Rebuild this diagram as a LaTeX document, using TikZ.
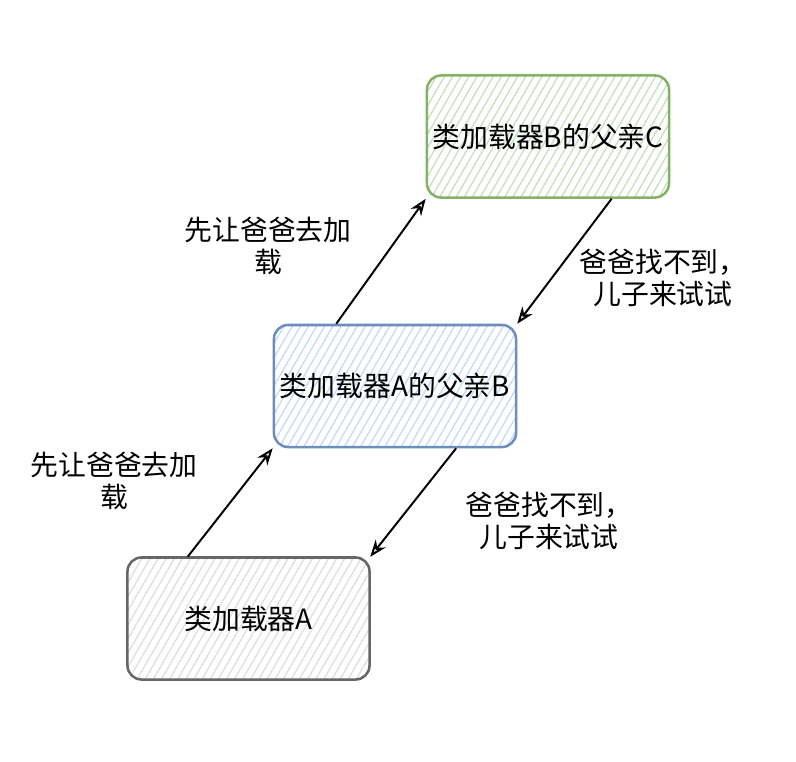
\documentclass[tikz,border=0pt]{standalone}
\usepackage{fontspec}
\setmainfont{Noto Sans CJK SC}
\usetikzlibrary{arrows.meta,calc,patterns.meta}
\definecolor{greenline}{HTML}{82B366}
\definecolor{greenhatch}{HTML}{C8E1C1}
\definecolor{blueline}{HTML}{6C8EBF}
\definecolor{bluehatch}{HTML}{C9DBF6}
\definecolor{grayline}{HTML}{666666}
\definecolor{grayhatch}{HTML}{E0E0E0}

\begin{document}
\begin{tikzpicture}[x=0.025cm,y=-0.025cm,>={Stealth[open,length=12pt,width=9pt]},
 box/.style={draw,line width=1.8pt,rounded corners=0.35cm,minimum width=6.05cm,minimum height=3.05cm,
  font=\fontsize{19.8}{24}\selectfont},
 hatch/.style={pattern={Lines[angle=60,distance=5pt,line width=1pt]},pattern color=#1},
 note/.style={align=center,font=\fontsize{19.8}{23}\selectfont},
 link/.style={->,line width=1.4pt}]
\useasboundingbox (0,0) rectangle (796,762);
\node[box,draw=grayline,hatch=grayhatch](a) at (248.5,618.5){类加载器A};
\node[box,draw=blueline,hatch=bluehatch](b) at (395,386){类加载器A的父亲B};
\node[box,draw=greenline,hatch=greenhatch](c) at (548,136.5){类加载器B的父亲C};
\draw[link]($(a.north west)!0.25!(a.north east)$)--(b.south west);
\draw[link]($(b.north west)!0.26!(b.north east)$)--(c.south west);
\draw[link]($(c.south west)!0.76!(c.south east)$)--(b.north east);
\draw[link]($(b.south west)!0.75!(b.south east)$)--(a.north east);
\node[note](up1) at (114,481){先让爸爸去加\\载};
\node[note](up2) at (268,246){先让爸爸去加\\载};
\node[note](down1) at (663,278){爸爸找不到，\\儿子来试试};
\node[note](down2) at (549,521){爸爸找不到，\\儿子来试试};
\end{tikzpicture}
\end{document}
